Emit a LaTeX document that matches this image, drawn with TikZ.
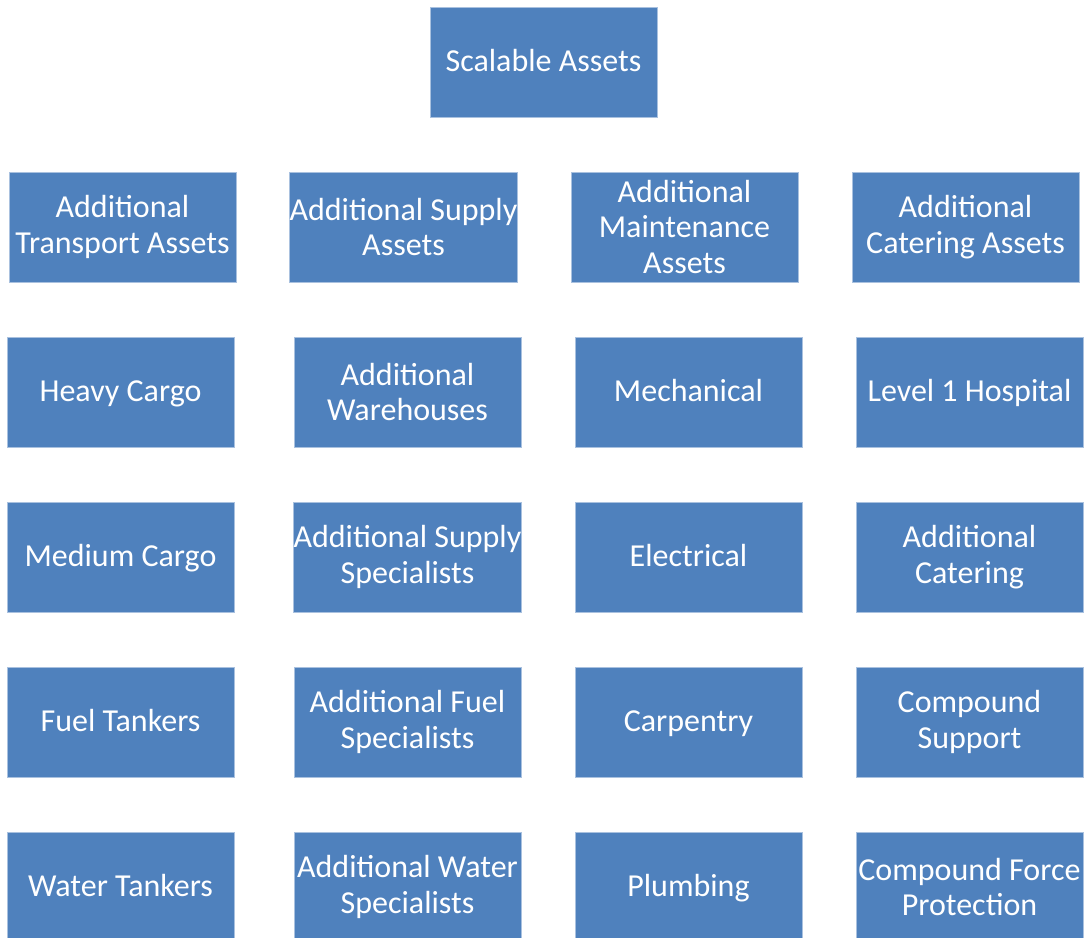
\documentclass[tikz,border=0pt]{standalone}
\usepackage{fontspec}
\setmainfont{Carlito}
\definecolor{boxfill}{HTML}{4F81BD}
\definecolor{boxline}{HTML}{A9C1DF}
\tikzset{
  asset/.style={draw=boxline, line width=1pt, fill=boxfill, text=white,
    minimum width=227pt, minimum height=110pt, inner sep=0pt, align=center,
    font=\fontsize{32}{35.5}\selectfont},
  oneline/.style={text height=25pt, text depth=7pt}
}
\begin{document}
\begin{tikzpicture}[x=1pt,y=-1pt]
\useasboundingbox (0,0) rectangle (1086,937);
\clip (0,0) rectangle (1086,937);
\node[asset, oneline] (top) at (543.5,62) {Scalable Assets};
% row 1
\node[asset] (t1) at (122.5,227) {Additional\\Transport Assets};
\node[asset] (s1) at (403.5,227) {Additional Supply\\Assets};
\node[asset] (m1) at (684.5,227) {Additional\\Maintenance\\Assets};
\node[asset] (c1) at (965.5,227) {Additional\\Catering Assets};
% row 2
\node[asset, oneline] (t2) at (120.5,392) {Heavy Cargo};
\node[asset] (s2) at (407.5,392) {Additional\\Warehouses};
\node[asset, oneline] (m2) at (688.5,392) {Mechanical};
\node[asset, oneline] (c2) at (969.5,392) {Level 1 Hospital};
% row 3
\node[asset, oneline] (t3) at (120.5,557) {Medium Cargo};
\node[asset] (s3) at (407.5,557) {Additional Supply\\Specialists};
\node[asset, oneline] (m3) at (688.5,557) {Electrical};
\node[asset] (c3) at (969.5,557) {Additional\\Catering};
% row 4
\node[asset, oneline] (t4) at (120.5,722) {Fuel Tankers};
\node[asset] (s4) at (407.5,722) {Additional Fuel\\Specialists};
\node[asset, oneline] (m4) at (688.5,722) {Carpentry};
\node[asset] (c4) at (969.5,722) {Compound\\Support};
% row 5
\node[asset, oneline] (t5) at (120.5,887) {Water Tankers};
\node[asset] (s5) at (407.5,887) {Additional Water\\Specialists};
\node[asset, oneline] (m5) at (688.5,887) {Plumbing};
\node[asset] (c5) at (969.5,887) {Compound Force\\Protection};
\end{tikzpicture}
\end{document}
